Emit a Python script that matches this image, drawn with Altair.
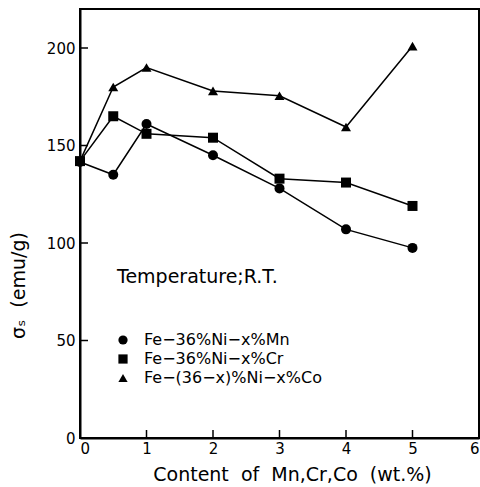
import altair as alt
import pandas as pd

# Content of added element (wt.%)
content = [0, 0.5, 1, 2, 3, 4, 5]

# Saturation magnetisation at room temperature (emu/g)
sigma_mn = [141.5, 135, 161, 145, 128, 107, 97.5]
sigma_cr = [142, 165, 156, 154, 133, 131, 119]
sigma_co = [142, 180, 190, 178, 175.5, 159.5, 201]

series_names = ["Fe−36%Ni−x%Mn", "Fe−36%Ni−x%Cr", "Fe−(36−x)%Ni−x%Co"]
series_shapes = ["circle", "square", "triangle-up"]

x_ticks = [0, 1, 2, 3, 4, 5, 6]
y_ticks = [0, 50, 100, 150, 200]

rows = []
for name, values in zip(series_names, [sigma_mn, sigma_cr, sigma_co]):
    for c, v in zip(content, values):
        rows.append({"content": c, "sigma": v, "alloy": name})
df = pd.DataFrame(rows)

W, H = 399, 429
FONT = "DejaVu Sans"
GAP = "\u00a0\u00a0"  # wide word gaps in the axis title

x_enc = alt.X("content:Q", scale=alt.Scale(domain=[0, 6], nice=False),
              axis=alt.Axis(values=x_ticks, format="d", ticks=False,
                            labelPadding=3,
                            title=GAP.join(["Content", "of", "Mn,Cr,Co", "(wt.%)"]),
                            titlePadding=9, titleFontSize=19,
                            titleFontWeight="normal", titleX=212))
y_enc = alt.Y("sigma:Q", scale=alt.Scale(domain=[0, 220], nice=False),
              axis=alt.Axis(values=y_ticks, format="d", ticks=False,
                            labelPadding=5,
                            title="σₛ\u00a0\u00a0(emu/g)", titleFontSize=19,
                            titleFontWeight="normal", titleY=276,
                            titlePadding=18))

lines = alt.Chart(df).mark_line(color="black", strokeWidth=1.5).encode(
    x=x_enc, y=y_enc, detail="alloy:N")

points = alt.Chart(df).mark_point(filled=True, color="black", opacity=1).encode(
    x="content:Q", y="sigma:Q",
    shape=alt.Shape("alloy:N",
                    scale=alt.Scale(domain=series_names, range=series_shapes),
                    legend=alt.Legend(title=None, orient="none", legendX=35,
                                      legendY=323, padding=0, symbolSize=85,
                                      symbolFillColor="black",
                                      symbolStrokeColor="black",
                                      symbolOpacity=1,
                                      labelFontSize=16, labelOffset=13,
                                      labelFont=FONT, labelColor="black",
                                      labelLimit=0, rowPadding=3)),
    size=alt.value(100))

# inward tick marks on both axes
y_tick_df = pd.DataFrame({"sigma": y_ticks})
x_tick_df = pd.DataFrame({"content": x_ticks})
y_marks = alt.Chart(y_tick_df).mark_rule(color="black", strokeWidth=1.5).encode(
    y="sigma:Q", x=alt.value(0), x2=alt.value(8))
x_marks = alt.Chart(x_tick_df).mark_rule(color="black", strokeWidth=1.5).encode(
    x="content:Q", y=alt.value(H), y2=alt.value(H - 8))

note = alt.Chart(pd.DataFrame({"t": ["Temperature;R.T."]})).mark_text(
    align="left", baseline="middle", fontSize=19, font=FONT, color="black"
).encode(x=alt.value(37), y=alt.value(268), text="t:N")

chart = alt.layer(lines, points, y_marks, x_marks, note).properties(
    width=W, height=H,
    autosize=alt.AutoSizeParams(type="none"),
    padding={"left": 80, "top": 9, "right": 1, "bottom": 49},
    background="white",
).configure_view(stroke="black", strokeWidth=2).configure_axis(
    domainColor="black", domainWidth=2, labelFont=FONT, titleFont=FONT,
    labelFontSize=15, labelColor="black", titleColor="black", grid=False
)

chart.save("out.html", embed_options={"renderer": "svg", "actions": False})
